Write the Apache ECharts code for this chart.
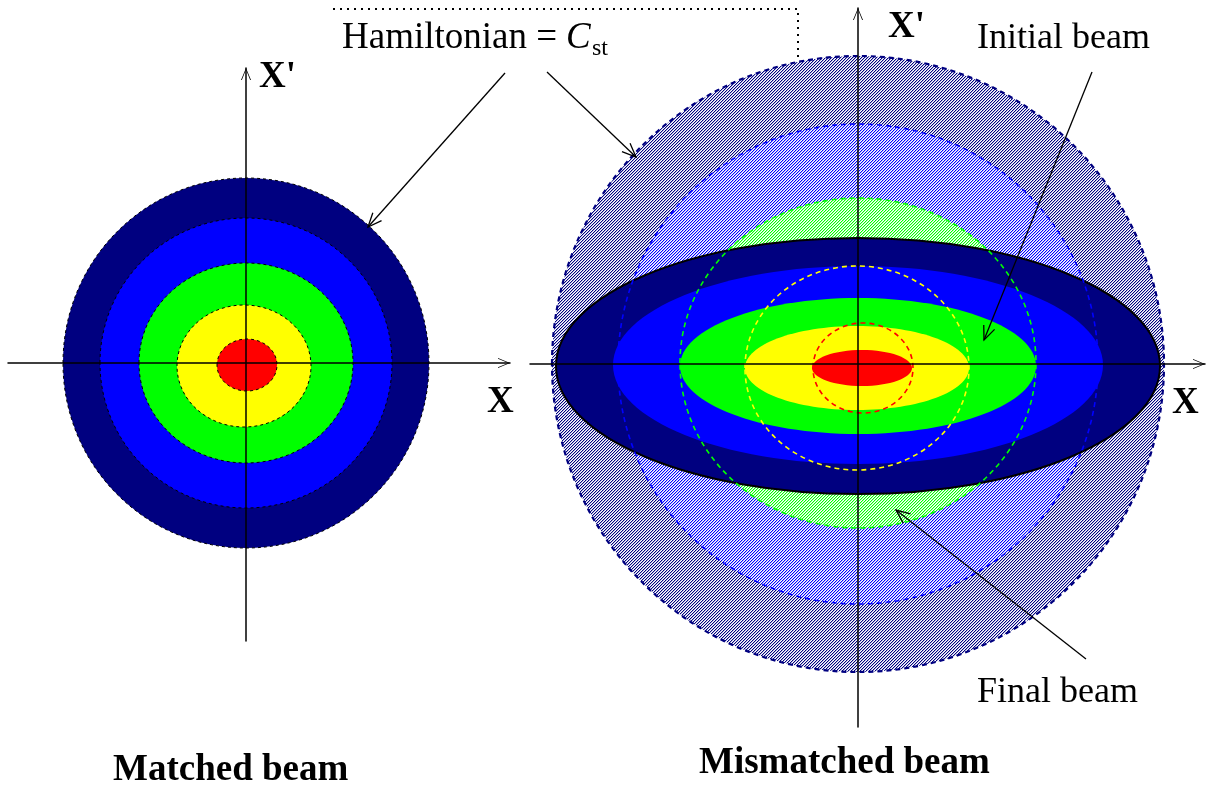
<!DOCTYPE html>
<html><head><meta charset="utf-8">
<script src="https://cdn.jsdelivr.net/npm/echarts/dist/echarts.min.js"></script>
<style>html,body{margin:0;padding:0;background:#fff}#main{width:1208px;height:791px}</style>
</head><body><div id="main"></div>
<script>
// ---- data (diagram units: 1 unit = 1 px of the reference) ----
const levels = ['outer', 'second', 'third', 'fourth', 'core'];
// Matched beam: concentric contours
const matchedRx = [183, 146, 107, 67, 30];
const matchedRy = [185, 145, 100, 61, 26];
const matchedCx = [0, 0, 0, -2, 1];
const matchedCy = [0, 0, 0, -3, -2];
// Mismatched beam, final (filamented) contours
const finalRx = [306, 240, 178, 112, 50];
const finalRy = [308, 240, 165, 102, 45];
const finalCx = [0, 0, 0, -1, 5];
const finalCy = [0, 0, 1, -4, -4];
// Mismatched beam, initial ellipses
const initialA = [302, 245, 178, 112, 50];
const initialB = [128, 99, 68, 42, 18];
const initialCx = [0, 0, 0, -1, 4];
const initialCy = [-2, -1, -2, -4, -4];

// ---- styles ----
const palette = ['#000080', '#0000ff', '#00ff00', '#ffff00', '#ff0000'];
const SERIF = '"Liberation Serif", "Times New Roman", serif';

function hatch(color) {
  const p = 3;
  const c = document.createElement('canvas'); c.width = p; c.height = p;
  const g = c.getContext('2d');
  g.fillStyle = '#fff'; g.fillRect(0, 0, p, p);
  g.fillStyle = color;
  for (let x = 0; x < p; x++) for (let y = 0; y < p; y++) {
    const k = (x + y) % p;
    if (k === 0) { g.globalAlpha = 1; g.fillRect(x, y, 1, 1); }
    else if (k === 1) { g.globalAlpha = 0.3; g.fillRect(x, y, 1, 1); }
  }
  g.globalAlpha = 1;
  return { image: c, repeat: 'repeat' };
}

function rows(cx, cy, rx, ry) { return levels.map((_, i) => [cx[i], cy[i], rx[i], ry[i]]); }

function ellipseRenderer(styleFn) {
  return function (params, api) {
    const c = api.coord([api.value(0), api.value(1)]);
    const s = api.size([api.value(2), api.value(3)]);
    return { type: 'ellipse', shape: { cx: c[0], cy: c[1], rx: s[0], ry: s[1] }, style: styleFn(params.dataIndex) };
  };
}

const chevron = 'path://M0,24L10,0L20,24L18.3,24L10,3.6L1.7,24Z';
function axisCommon(extra) {
  return Object.assign({
    type: 'value', z: 10,
    axisLabel: { show: false }, axisTick: { show: false }, splitLine: { show: false },
    axisLine: { show: true, onZero: true, symbol: ['none', chevron], symbolSize: [11, 12], symbolOffset: [0, -6],
      lineStyle: { color: '#000', width: 1.5 } }
  }, extra);
}

function arrow(x1, y1, x2, y2) {
  const ang = Math.atan2(y2 - y1, x2 - x1), L = 15, w = 0.4;
  return [
    { type: 'line', z: 100, shape: { x1, y1, x2, y2 }, style: { stroke: '#000', lineWidth: 1.3 } },
    { type: 'polyline', z: 100, shape: { points: [
      [x2 - L * Math.cos(ang - w), y2 - L * Math.sin(ang - w)], [x2, y2],
      [x2 - L * Math.cos(ang + w), y2 - L * Math.sin(ang + w)]] },
      style: { stroke: '#000', fill: null, lineWidth: 1.3 } }
  ];
}
function label(text, x, baseline, size, weight, style) {
  return { type: 'text', z: 100, x: x, y: baseline - 0.3375 * size,
    style: { text: text, font: (style || 'normal') + ' ' + (weight || 'normal') + ' ' + size + 'px ' + SERIF,
      fill: '#000', align: 'left', verticalAlign: 'middle', textAlign: 'left', textVerticalAlign: 'middle' } };
}

const chart = echarts.init(document.getElementById('main'), null, { renderer: 'canvas' });
chart.setOption({
  backgroundColor: '#fff',
  animation: false,
  grid: [
    { left: 8, top: 68, width: 502, height: 573 },
    { left: 530, top: 8, width: 675, height: 719 }
  ],
  xAxis: [axisCommon({ gridIndex: 0, min: -238, max: 264 }), axisCommon({ gridIndex: 1, min: -328, max: 347 })],
  yAxis: [axisCommon({ gridIndex: 0, min: -278, max: 295 }), axisCommon({ gridIndex: 1, min: -363, max: 356 })],
  series: [
    { name: 'Matched beam', type: 'custom', xAxisIndex: 0, yAxisIndex: 0, z: 2, silent: true,
      data: rows(matchedCx, matchedCy, matchedRx, matchedRy),
      renderItem: ellipseRenderer(i => ({ fill: palette[i], stroke: '#000', lineWidth: 1, lineDash: [3, 3] })) },
    { name: 'Final beam (fill)', type: 'custom', xAxisIndex: 1, yAxisIndex: 1, z: 2, silent: true,
      data: rows(finalCx, finalCy, finalRx, finalRy),
      renderItem: ellipseRenderer(i => ({ fill: hatch(palette[i]), stroke: null })) },
    { name: 'Initial beam', type: 'custom', xAxisIndex: 1, yAxisIndex: 1, z: 3, silent: true,
      data: rows(initialCx, initialCy, initialA, initialB),
      renderItem: ellipseRenderer(i => i === 0
        ? { fill: palette[i], stroke: '#000', lineWidth: 2 }
        : { fill: palette[i], stroke: null }) },
    { name: 'Final beam (contour)', type: 'custom', xAxisIndex: 1, yAxisIndex: 1, z: 4, silent: true,
      data: rows(finalCx, finalCy, finalRx, finalRy),
      renderItem: ellipseRenderer(i => ({ fill: null, stroke: palette[i], lineWidth: i === 0 ? 2.2 : 1.6, lineDash: [5, 4] })) }
  ],
  graphic: [
    { type: 'polyline', z: 100, shape: { points: [[333, 9], [798, 9], [798, 62]] },
      style: { stroke: '#000', fill: null, lineWidth: 2, lineDash: [2, 5] } },
    label('Hamiltonian = ', 342, 51, 37),
    label('C', 566, 51, 37, 'normal', 'italic'),
    label('st', 592, 57, 24),
    label("X'", 259, 90, 37, 'bold'),
    label("X'", 888, 40, 37, 'bold'),
    label('X', 487, 415, 37, 'bold'),
    label('X', 1172, 416, 37, 'bold'),
    label('Initial beam', 977, 51, 36),
    label('Final beam', 977, 705, 36),
    label('Matched beam', 113, 783, 37, 'bold'),
    label('Mismatched beam', 699, 776, 37, 'bold')
  ].concat(arrow(505, 73, 368, 227), arrow(547, 72, 636, 157), arrow(1092, 72, 984, 340), arrow(1086, 659, 896, 510))
});
</script></body></html>
